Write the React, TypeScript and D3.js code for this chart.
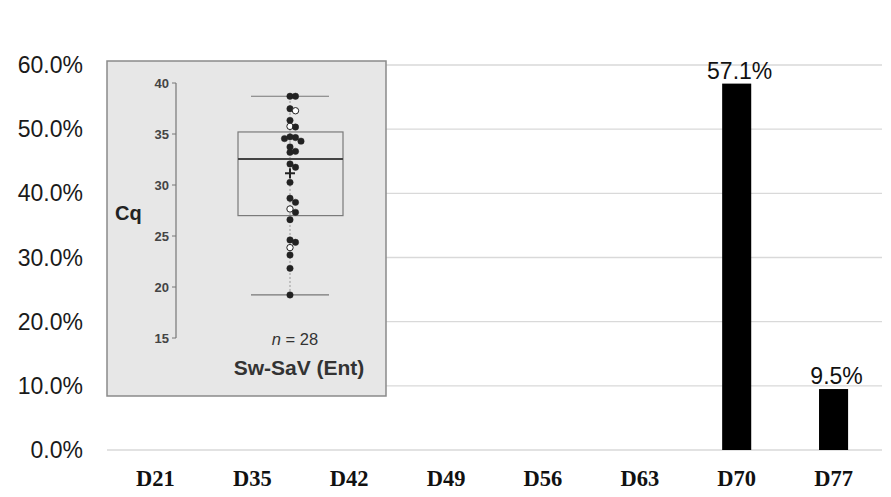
import React from "react";
import * as d3 from "d3";

// ---------- data ----------
const categories = ["D21", "D35", "D42", "D49", "D56", "D63", "D70", "D77"];
const percentValues = [0, 0, 0, 0, 0, 0, 0.571, 0.095];
const yTicks = [0, 0.1, 0.2, 0.3, 0.4, 0.5, 0.6];

// inset box plot (Cq values)
const cqValues = [
  38.7, 38.7, 37.48, 37.28, 36.34, 35.75, 35.68, 34.72, 34.65, 34.55, 34.3, 33.73,
  33.3, 33.2, 32.06, 31.74, 30.26, 28.7, 28.3, 27.65, 27.32, 26.6, 24.61, 24.38,
  23.86, 23.14, 21.83, 19.22,
];
const cqOpen = [
  false, false, false, true, false, true, false, false, false, false, false, false,
  false, false, false, false, false, false, false, true, false, false, false, false,
  true, false, false, false,
];
const cqTicks = [15, 20, 25, 30, 35, 40];
const boxQ1 = 27.0;
const boxMedian = 32.55;
const boxQ3 = 35.2;
const boxMean = 31.15;
const whiskerLow = 19.22;
const whiskerHigh = 38.7;
const sampleN = 28;
const insetTitle = "Sw-SaV (Ent)";

const W = 891;
const H = 497;
const SANS = "'Liberation Sans', Arial, Helvetica, sans-serif";
const SERIF = "'Liberation Serif', 'Times New Roman', serif";

export default function App() {
  const x = d3
    .scaleBand<string>()
    .domain(categories)
    .range([107, 882])
    .paddingInner(0.7)
    .paddingOuter(0.35);
  const y = d3.scaleLinear().domain([0, 0.6]).range([450, 65]);
  const fmt = d3.format(".1%");

  // inset
  const inset = { x: 107, y: 61, w: 279, h: 335 };
  const cy = d3.scaleLinear().domain([15, 40]).range([338, 83]);
  const axisX = 176;
  const boxL = 238;
  const boxR = 343;
  const cx = (boxL + boxR) / 2 - 0.5;
  const whL = 251;
  const whR = 329;

  // dodge the dots
  const order = d3.range(cqValues.length).sort((a, b) => cqValues[b] - cqValues[a]);
  const placed: { x: number; y: number; i: number }[] = [];
  const offsets = [0, 5.5, -5.5, 11, -11];
  order.forEach((i) => {
    const py = cy(cqValues[i]);
    let chosen = offsets[offsets.length - 1];
    for (const o of offsets) {
      const px = cx + o;
      const hit = placed.some((p) => Math.abs(p.x - px) < 5 && Math.abs(p.y - py) < 5);
      if (!hit) {
        chosen = o;
        break;
      }
    }
    placed.push({ x: cx + chosen, y: py, i });
  });

  return (
    <svg
      width={W}
      height={H}
      style={{ position: "absolute", left: 0, top: 0, background: "#fff" }}
    >
      {/* gridlines */}
      {yTicks.map((t) => (
        <line
          key={t}
          x1={107}
          x2={882}
          y1={y(t)}
          y2={y(t)}
          stroke="#d9d9d9"
          strokeWidth={1.3}
        />
      ))}
      {/* y labels */}
      {yTicks.map((t) => (
        <text
          key={"l" + t}
          x={83}
          y={y(t) + 8}
          textAnchor="end"
          fontFamily={SANS}
          fontSize={23}
          fill="#1a1a1a"
        >
          {fmt(t)}
        </text>
      ))}
      {/* bars */}
      {categories.map((c, i) =>
        percentValues[i] > 0 ? (
          <g key={c}>
            <rect
              x={x(c)}
              y={y(percentValues[i])}
              width={x.bandwidth()}
              height={y(0) - y(percentValues[i])}
              fill="#000"
            />
            <text
              x={(x(c) as number) + x.bandwidth() / 2 + 3}
              y={y(percentValues[i]) - 5}
              textAnchor="middle"
              fontFamily={SANS}
              fontSize={23}
              fill="#111"
            >
              {fmt(percentValues[i])}
            </text>
          </g>
        ) : null
      )}
      {/* x labels */}
      {categories.map((c) => (
        <text
          key={"x" + c}
          x={(x(c) as number) + x.bandwidth() / 2}
          y={486}
          textAnchor="middle"
          fontFamily={SERIF}
          fontWeight="bold"
          fontSize={22.5}
          fill="#111"
        >
          {c}
        </text>
      ))}

      {/* inset box plot */}
      <rect
        x={inset.x}
        y={inset.y}
        width={inset.w}
        height={inset.h}
        fill="#e7e7e7"
        stroke="#8a8a8a"
        strokeWidth={1.5}
      />
      <line x1={axisX} x2={axisX} y1={cy(40)} y2={cy(15)} stroke="#777" strokeWidth={1.2} />
      {cqTicks.map((t) => (
        <g key={"c" + t}>
          <line x1={axisX - 4} x2={axisX} y1={cy(t)} y2={cy(t)} stroke="#777" strokeWidth={1} />
          <text
            x={169}
            y={cy(t) + 4.5}
            textAnchor="end"
            fontFamily={SANS}
            fontWeight="bold"
            fontSize={13}
            fill="#444"
          >
            {t}
          </text>
        </g>
      ))}
      <text x={115} y={220} fontFamily={SANS} fontWeight="bold" fontSize={20} fill="#222">
        Cq
      </text>
      {/* dotted stem */}
      <line
        x1={cx}
        x2={cx}
        y1={cy(whiskerLow)}
        y2={cy(whiskerHigh)}
        stroke="#999"
        strokeWidth={1}
        strokeDasharray="2,2"
      />
      {/* whiskers */}
      <line x1={whL} x2={whR} y1={cy(whiskerHigh)} y2={cy(whiskerHigh)} stroke="#777" strokeWidth={1.2} />
      <line x1={whL} x2={whR} y1={cy(whiskerLow)} y2={cy(whiskerLow)} stroke="#777" strokeWidth={1.2} />
      {/* box */}
      <rect
        x={boxL}
        y={cy(boxQ3)}
        width={boxR - boxL}
        height={cy(boxQ1) - cy(boxQ3)}
        fill="none"
        stroke="#7a7a7a"
        strokeWidth={1.2}
      />
      <line x1={boxL} x2={boxR} y1={cy(boxMedian)} y2={cy(boxMedian)} stroke="#444" strokeWidth={2} />
      {/* dots */}
      {placed.map((p) => (
        <circle
          key={"p" + p.i}
          cx={p.x}
          cy={p.y}
          r={3.2}
          fill={cqOpen[p.i] ? "#fff" : "#222"}
          stroke="#222"
          strokeWidth={cqOpen[p.i] ? 1 : 0.5}
        />
      ))}
      {/* mean */}
      <line x1={cx - 5} x2={cx + 5} y1={cy(boxMean)} y2={cy(boxMean)} stroke="#222" strokeWidth={2} />
      <line x1={cx} x2={cx} y1={cy(boxMean) - 5} y2={cy(boxMean) + 5} stroke="#222" strokeWidth={2} />
      {/* n label */}
      <text x={295} y={345} textAnchor="middle" fontFamily={SANS} fontSize={16.5} fill="#333">
        <tspan fontStyle="italic">n</tspan>
        <tspan> = {sampleN}</tspan>
      </text>
      <text
        x={299}
        y={375}
        textAnchor="middle"
        fontFamily={SANS}
        fontWeight="bold"
        fontSize={21}
        fill="#333"
      >
        {insetTitle}
      </text>
    </svg>
  );
}
